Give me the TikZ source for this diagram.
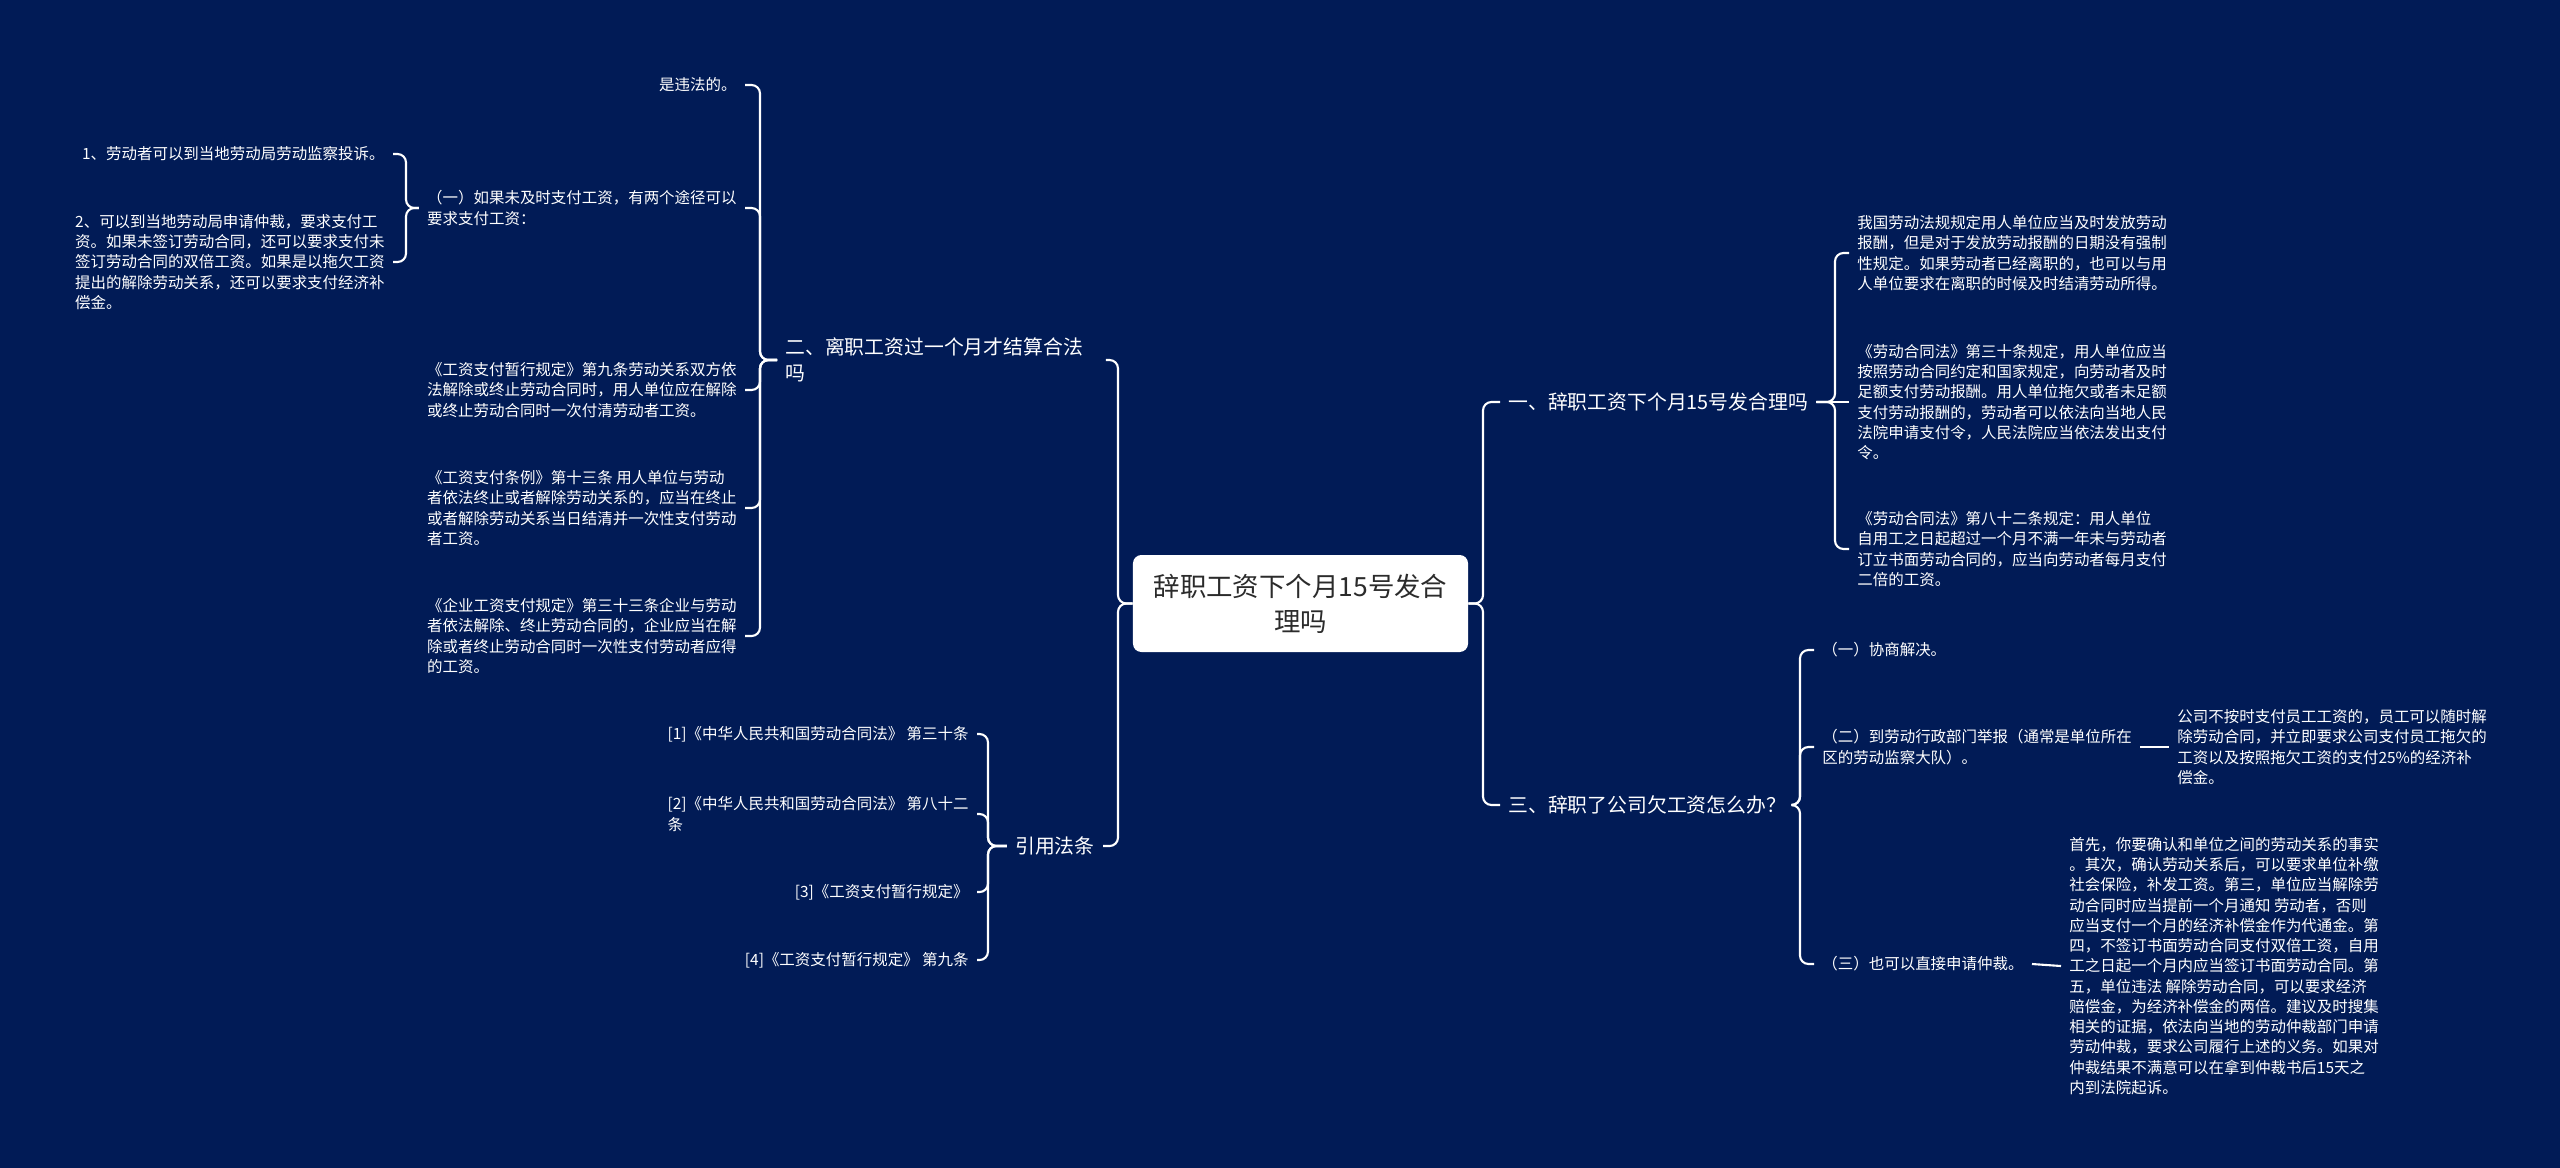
\documentclass[tikz,border=0pt]{standalone}
\usepackage{fontspec}
\setmainfont{Noto Sans CJK SC}
\usetikzlibrary{positioning, calc}
\usepackage{xcolor}
\definecolor{bgcol}{HTML}{011B56}
\definecolor{linecol}{HTML}{FFFFFF}
\definecolor{rootcol}{HTML}{FFFFFF}
\definecolor{roottext}{HTML}{2B2B2B}
\definecolor{leaftext}{HTML}{FFFFFF}

\begin{document}
\begin{tikzpicture}[
    x=0.025cm, y=-0.025cm,
    rootbox/.style={fill=rootcol, rounded corners=6pt, minimum width=8.375cm, minimum height=2.425cm,
        align=center, text=roottext, font=\fontsize{18.8}{25}\selectfont},
    topic/.style={inner xsep=3pt, inner ysep=2pt, outer xsep=3pt, align=left, text=leaftext,
        font=\fontsize{14.1}{18.6}\selectfont},
    leaf/.style={inner xsep=3pt, inner ysep=2pt, outer xsep=3pt, align=left, text=leaftext,
        font=\fontsize{11}{14.4}\selectfont},
    link/.style={draw=linecol, line width=1.5pt, rounded corners=6pt},
]

% page size first, then background (overfilled so no edge shows)
\useasboundingbox (0,0) rectangle (2560,1167);
\fill[bgcol] (-20,-20) rectangle (2580,1187);

% ============================================================
%  Root
% ============================================================
\node[rootbox] (root) at (1300.5,603.5) {辞职工资下个月15号发合\\理吗};

% bus columns
\coordinate (busL) at (1118,0);
\coordinate (busR) at (1483,0);
\coordinate (busA) at (760,0);
\coordinate (busA2) at (406,0);
\coordinate (busB) at (988,0);
\coordinate (busC) at (1835,0);
\coordinate (busD) at (1800,0);

% ============================================================
%  Left side
% ============================================================
\node[topic, text width=7.8cm, anchor=west] (secA) at (777,360) {二、离职工资过一个月才结算合法\\吗};
\node[topic, anchor=east] (secB) at (1103,846) {引用法条};

\foreach \n in {secA,secB} { \draw[link] (root.west) -- (root.west -| busL) |- (\n.east); }

% --- 二 ---
\node[leaf, anchor=east] (lawA1) at (745,85) {是违法的。};
\node[leaf, anchor=east] (lawA2) at (745,208) {（一）如果未及时支付工资，有两个途径可以\\要求支付工资：};
\node[leaf, anchor=east] (lawA3) at (745,390) {《工资支付暂行规定》第九条劳动关系双方依\\法解除或终止劳动合同时，用人单位应在解除\\或终止劳动合同时一次付清劳动者工资。};
\node[leaf, anchor=east] (lawA4) at (745,508) {《工资支付条例》第十三条 用人单位与劳动\\者依法终止或者解除劳动关系的，应当在终止\\或者解除劳动关系当日结清并一次性支付劳动\\者工资。};
\node[leaf, anchor=east] (lawA5) at (745,636) {《企业工资支付规定》第三十三条企业与劳动\\者依法解除、终止劳动合同的，企业应当在解\\除或者终止劳动合同时一次性支付劳动者应得\\的工资。};

\foreach \n in {lawA1,lawA2,lawA3,lawA4,lawA5} { \draw[link] (secA.west) -- (secA.west -| busA) |- (\n.east); }

\node[leaf, anchor=east] (wayA1) at (393,154) {1、劳动者可以到当地劳动局劳动监察投诉。};
\node[leaf, anchor=east] (wayA2) at (393,262) {2、可以到当地劳动局申请仲裁，要求支付工\\资。如果未签订劳动合同，还可以要求支付未\\签订劳动合同的双倍工资。如果是以拖欠工资\\提出的解除劳动关系，还可以要求支付经济补\\偿金。};

\foreach \n in {wayA1,wayA2} { \draw[link] (lawA2.west) -- (lawA2.west -| busA2) |- (\n.east); }

% --- 引用法条 ---
\node[leaf, anchor=east] (refB1) at (977,734) {[1]《中华人民共和国劳动合同法》 第三十条};
\node[leaf, anchor=east] (refB2) at (977,814) {[2]《中华人民共和国劳动合同法》 第八十二\\条};
\node[leaf, anchor=east] (refB3) at (977,892) {[3]《工资支付暂行规定》};
\node[leaf, anchor=east] (refB4) at (977,960) {[4]《工资支付暂行规定》 第九条};

\foreach \n in {refB1,refB2,refB3,refB4} { \draw[link] (secB.west) -- (secB.west -| busB) |- (\n.east); }

% ============================================================
%  Right side
% ============================================================
\node[topic, anchor=west] (secC) at (1500,402) {一、辞职工资下个月15号发合理吗};
\node[topic, anchor=west] (secD) at (1500,805) {三、辞职了公司欠工资怎么办？};

\foreach \n in {secC,secD} { \draw[link] (root.east) -- (root.east -| busR) |- (\n.west); }

% --- 一 ---
\node[leaf, anchor=west] (ruleC1) at (1849,253) {我国劳动法规规定用人单位应当及时发放劳动\\报酬，但是对于发放劳动报酬的日期没有强制\\性规定。如果劳动者已经离职的，也可以与用\\人单位要求在离职的时候及时结清劳动所得。};
\node[leaf, anchor=west] (ruleC2) at (1849,402) {《劳动合同法》第三十条规定，用人单位应当\\按照劳动合同约定和国家规定，向劳动者及时\\足额支付劳动报酬。用人单位拖欠或者未足额\\支付劳动报酬的，劳动者可以依法向当地人民\\法院申请支付令，人民法院应当依法发出支付\\令。};
\node[leaf, anchor=west] (ruleC3) at (1849,549) {《劳动合同法》第八十二条规定：用人单位\\自用工之日起超过一个月不满一年未与劳动者\\订立书面劳动合同的，应当向劳动者每月支付\\二倍的工资。};

\foreach \n in {ruleC1,ruleC3} { \draw[link] (secC.east) -- (secC.east -| busC) |- (\n.west); }
\draw[link] (secC.east) -- (ruleC2.west);

% --- 三 ---
\node[leaf, anchor=west] (stepD1) at (1814,650) {（一）协商解决。};
\node[leaf, anchor=west] (stepD2) at (1814,747) {（二）到劳动行政部门举报（通常是单位所在\\区的劳动监察大队）。};
\node[leaf, anchor=west] (stepD3) at (1814,964) {（三）也可以直接申请仲裁。};

\foreach \n in {stepD1,stepD2,stepD3} { \draw[link] (secD.east) -- (secD.east -| busD) |- (\n.west); }

\node[leaf, anchor=west] (noteD2) at (2169,747) {公司不按时支付员工工资的，员工可以随时解\\除劳动合同，并立即要求公司支付员工拖欠的\\工资以及按照拖欠工资的支付25\%的经济补\\偿金。};
\node[leaf, anchor=west] (noteD3) at (2061,966) {首先，你要确认和单位之间的劳动关系的事实\\。其次，确认劳动关系后，可以要求单位补缴\\社会保险，补发工资。第三，单位应当解除劳\\动合同时应当提前一个月通知 劳动者，否则\\应当支付一个月的经济补偿金作为代通金。第\\四，不签订书面劳动合同支付双倍工资，自用\\工之日起一个月内应当签订书面劳动合同。第\\五，单位违法 解除劳动合同，可以要求经济\\赔偿金，为经济补偿金的两倍。建议及时搜集\\相关的证据，依法向当地的劳动仲裁部门申请\\劳动仲裁，要求公司履行上述的义务。如果对\\仲裁结果不满意可以在拿到仲裁书后15天之\\内到法院起诉。};

\draw[link] (stepD2.east) -- (noteD2.west);
\draw[link] (stepD3.east) -- (noteD3.west);

\end{tikzpicture}
\end{document}
